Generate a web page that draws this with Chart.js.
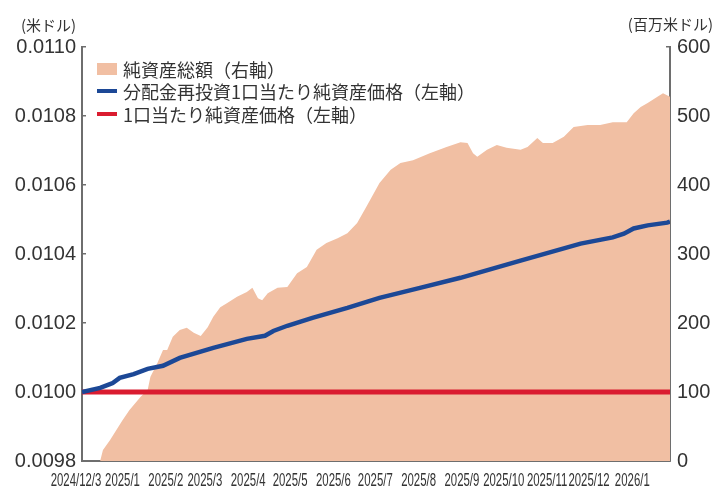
<!DOCTYPE html>
<html><head><meta charset="utf-8">
<script src="https://cdn.jsdelivr.net/npm/chart.js@4.4.1/dist/chart.umd.min.js"></script>
<style>html,body{margin:0;padding:0;background:#fff;}#wrap{width:715px;height:490px;position:relative;}</style>
</head><body><div id="wrap"><canvas id="c" width="715" height="490"></canvas></div>
<script>
// x values are days since 2024/12/3
const xTickDays = [0,29,60,88,119,149,180,210,241,272,302,333,363,394];
const xTickLabels = ['2024/12/3','2025/1','2025/2','2025/3','2025/4','2025/5','2025/6','2025/7','2025/8','2025/9','2025/10','2025/11','2025/12','2026/1'];
const leftTicks = [0.0098,0.0100,0.0102,0.0104,0.0106,0.0108,0.0110];
const rightTicks = [0,100,200,300,400,500,600];

// 純資産総額 (百万米ドル)
const navDays = [0,13,15,20,29,34,42,47,49,54,58,61,65,70,75,80,85,90,94,99,104,111,118,122,126,129,133,140,147,154,161,168,175,183,190,197,204,213,221,228,237,249,261,271,276,280,283,290,297,304,314,319,326,330,337,345,352,362,371,380,390,395,400,405,412,416,421];
const navValues = [0,0,16,30,59,74,93,103,122,142,161,161,180,190,193,186,181,194,209,223,229,238,245,251,236,233,243,251,252,272,281,306,316,323,330,345,370,403,422,432,436,446,455,462,461,446,441,451,458,454,451,455,468,461,461,470,484,487,487,491,491,504,513,519,528,533,528];

// 分配金再投資1口当たり純資産価格 (米ドル)
const reinvDays = [0,13,20,22,27,37,47,58,70,94,118,131,137,147,165,190,213,242,271,314,357,380,388,395,405,419,421];
const reinvValues = [0.010000,0.010012,0.010023,0.010026,0.010041,0.010052,0.010067,0.010076,0.010099,0.010128,0.010154,0.010163,0.010177,0.010192,0.010215,0.010244,0.010273,0.010302,0.010331,0.010381,0.010430,0.010448,0.010459,0.010474,0.010483,0.010491,0.010494];

// 1口当たり純資産価格 (米ドル)
const baseDays = [0,421];
const baseValues = [0.0100,0.0100];

const xMax = 421;
const names = ['純資産総額（右軸）','分配金再投資1口当たり純資産価格（左軸）','1口当たり純資産価格（左軸）'];
const colArea = 'rgb(241,191,163)';
const colBlue = 'rgb(28,72,150)';
const colRed = 'rgb(218,28,48)';
const axisCol = '#6e6e6e';
const txtCol = '#333333';
const numFont = "'Liberation Sans', Arial, sans-serif";
const jpFont = "'Noto Sans CJK JP', sans-serif";

const pts = (d, v) => d.map((x, i) => ({x: x, y: v[i]}));

const extras = {
  id: 'extras',
  afterDraw(chart) {
    const ctx = chart.ctx;
    ctx.save();
    ctx.fillStyle = txtCol;
    ctx.font = "15px " + jpFont;
    ctx.textBaseline = 'middle';
    ctx.textAlign = 'left';
    ctx.fillText('(米ドル)', 21, 25);
    ctx.textAlign = 'right';
    ctx.fillText('(百万米ドル)', 713, 24);
    // condensed x-axis labels at the scale's tick positions
    const xs = chart.scales.x;
    ctx.font = "19px " + numFont;
    ctx.textAlign = 'center';
    ctx.textBaseline = 'middle';
    xs.ticks.forEach((t, i) => {
      const px = xs.getPixelForValue(t.value) - (i === 0 ? 6 : 0);
      ctx.save();
      ctx.translate(px, 481);
      ctx.scale(0.6, 1);
      ctx.fillText(xTickLabels[i], 0, 0);
      ctx.restore();
    });
    // legend
    const ds = chart.data.datasets;
    const lx = 97, tx = 123, ys = [69, 91, 114];
    ctx.fillStyle = ds[0].backgroundColor;
    ctx.fillRect(lx, ys[0] - 6, 20, 12);
    ctx.lineWidth = 4;
    ctx.strokeStyle = ds[1].borderColor;
    ctx.beginPath(); ctx.moveTo(lx, ys[1]); ctx.lineTo(lx + 20, ys[1]); ctx.stroke();
    ctx.strokeStyle = ds[2].borderColor;
    ctx.beginPath(); ctx.moveTo(lx, ys[2]); ctx.lineTo(lx + 20, ys[2]); ctx.stroke();
    ctx.fillStyle = txtCol;
    ctx.font = "18px " + jpFont;
    ctx.textAlign = 'left';
    for (let i = 0; i < 3; i++) ctx.fillText(ds[i].label, tx, ys[i] + 1);
    ctx.restore();
  }
};

new Chart(document.getElementById('c'), {
  type: 'line',
  data: {
    datasets: [
      {label: names[0], data: pts(navDays, navValues), yAxisID: 'y1', fill: 'origin',
       backgroundColor: colArea, borderWidth: 0, borderColor: colArea, pointRadius: 0, tension: 0, order: 3},
      {label: names[1], data: pts(reinvDays, reinvValues), yAxisID: 'y', fill: false,
       borderColor: colBlue, backgroundColor: colBlue, borderWidth: 4.5, pointRadius: 0, tension: 0, order: 1},
      {label: names[2], data: pts(baseDays, baseValues), yAxisID: 'y', fill: false,
       borderColor: colRed, backgroundColor: colRed, borderWidth: 5, pointRadius: 0, tension: 0, order: 2}
    ]
  },
  options: {
    responsive: false,
    devicePixelRatio: 1,
    animation: false,
    layout: {padding: {top: 47, left: 0, right: 0, bottom: 0}},
    plugins: {legend: {display: false}, tooltip: {enabled: false}},
    scales: {
      x: {
        type: 'linear', position: 'bottom', min: 0, max: xMax,
        afterBuildTicks: s => { s.ticks = xTickDays.map(v => ({value: v})); },
        afterFit: s => { s.height = 29; },
        ticks: {display: false, autoSkip: false, maxRotation: 0, minRotation: 0,
                callback: (v, i) => xTickLabels[i]},
        grid: {drawOnChartArea: false, drawTicks: true, tickLength: -4, color: axisCol, lineWidth: 1.5},
        border: {color: axisCol, width: 2}
      },
      y: {
        type: 'linear', position: 'left', min: leftTicks[0], max: leftTicks[leftTicks.length - 1],
        afterBuildTicks: s => { s.ticks = leftTicks.map(v => ({value: v})); },
        afterFit: s => { s.width = 82; },
        ticks: {padding: 10, color: txtCol, font: {family: numFont, size: 20},
                callback: v => Number(v).toFixed(4)},
        grid: {drawOnChartArea: false, drawTicks: true, tickLength: -4, color: axisCol, lineWidth: 1.5},
        border: {color: axisCol, width: 2}
      },
      y1: {
        type: 'linear', position: 'right', min: 0, max: 600,
        afterBuildTicks: s => { s.ticks = rightTicks.map(v => ({value: v})); },
        afterFit: s => { s.width = 45; },
        ticks: {padding: 11, color: txtCol, font: {family: numFont, size: 20},
                callback: v => String(v)},
        grid: {drawOnChartArea: false, drawTicks: true, tickLength: -4, color: axisCol, lineWidth: 1.5},
        border: {color: axisCol, width: 2}
      }
    }
  },
  plugins: [extras]
});
</script>
</body></html>
